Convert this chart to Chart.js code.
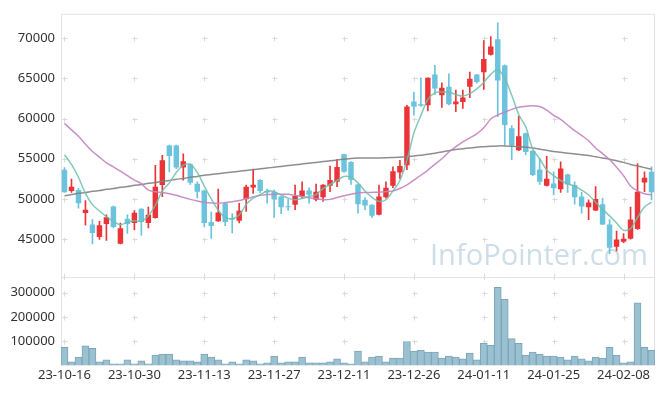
<!DOCTYPE html>
<html lang="en">
<head>
  <meta charset="UTF-8">
  <title>Candle chart</title>
  <script src="https://cdn.jsdelivr.net/npm/chart.js"></script>
  <style>
    body { margin: 0; background: #fff; }
    .wrap { width: 665px; height: 396px; }
  </style>
</head>
<body>
  <div class="wrap"><canvas id="candles"></canvas></div>

  <script>
    // trading days, 23-10-16 .. 24-02-16
    const dates = [
      '23-10-16','23-10-17','23-10-18','23-10-19','23-10-20','23-10-23','23-10-24','23-10-25','23-10-26','23-10-27',
      '23-10-30','23-10-31','23-11-01','23-11-02','23-11-03','23-11-06','23-11-07','23-11-08','23-11-09','23-11-10',
      '23-11-13','23-11-14','23-11-15','23-11-16','23-11-17','23-11-20','23-11-21','23-11-22','23-11-23','23-11-24',
      '23-11-27','23-11-28','23-11-29','23-11-30','23-12-01','23-12-04','23-12-05','23-12-06','23-12-07','23-12-08',
      '23-12-11','23-12-12','23-12-13','23-12-14','23-12-15','23-12-18','23-12-19','23-12-20','23-12-21','23-12-22',
      '23-12-26','23-12-27','23-12-28','24-01-02','24-01-03','24-01-04','24-01-05','24-01-08','24-01-09','24-01-10',
      '24-01-11','24-01-12','24-01-15','24-01-16','24-01-17','24-01-18','24-01-19','24-01-22','24-01-23','24-01-24',
      '24-01-25','24-01-26','24-01-29','24-01-30','24-01-31','24-02-01','24-02-02','24-02-05','24-02-06','24-02-07',
      '24-02-08','24-02-13','24-02-14','24-02-15','24-02-16'
    ];

    const opens = [
      53620, 51000, 51120, 48240, 46810, 45280, 46890, 49060, 44420, 47550,
      47010, 48780, 47010, 47620, 51740, 56660, 56660, 53900, 54320, 51900,
      51040, 47130, 47220, 49470, 47620, 47300, 49960, 51440, 52350, 51000,
      50910, 50300, 49060, 49270, 50380, 51040, 49890, 50210, 51650, 52140,
      55550, 54610, 51810, 49890, 49270, 48040, 50210, 51650, 53290, 54200,
      62120, 61790, 61660, 65480, 62890, 63970, 61790, 62080, 63970, 65480,
      65780, 67940, 69880, 66640, 58790, 56050, 58180, 56000, 53660, 51650,
      51930, 51200, 53040, 51740, 50300, 48980, 48570, 49350, 46810, 44050,
      44670, 45040, 46270, 52060, 53380
    ];
    const highs = [
      53900, 52480, 51320, 49800, 47430, 47220, 48040, 49100, 47010, 48040,
      48540, 48800, 48980, 54200, 55430, 56700, 56700, 55630, 54400, 52140,
      51120, 48360, 51240, 49500, 48170, 49470, 51740, 53710, 52400, 51240,
      51120, 50300, 49960, 51740, 52140, 51400, 51860, 51800, 54080, 54890,
      55600, 54650, 51850, 50170, 49300, 51740, 52140, 53990, 54820, 61660,
      63310, 65070, 65070, 66640, 64460, 65570, 63560, 63560, 65780, 65500,
      69720, 70210, 71930, 66700, 59130, 60270, 58200, 56000, 55010, 55310,
      53380, 54610, 53100, 52140, 50830, 49890, 51530, 50090, 47430, 45990,
      45700, 48980, 54400, 53380, 53990
    ];
    const lows = [
      50800, 50830, 48860, 46730, 44420, 44960, 44840, 46400, 44400, 45700,
      46150, 45460, 46390, 47600, 50300, 53380, 53780, 52350, 51810, 50090,
      46520, 45090, 47200, 46690, 45780, 47010, 48450, 50700, 50790, 49470,
      47710, 48170, 48570, 48660, 50090, 49470, 49770, 49680, 50910, 51530,
      53300, 51810, 48240, 48660, 47710, 48000, 50090, 51400, 52550, 53660,
      60430, 61500, 60970, 63020, 61380, 61700, 60850, 61260, 62610, 64400,
      63630, 67900, 60230, 56660, 54890, 56000, 55510, 52900, 51810, 51600,
      50510, 50830, 50830, 49350, 48240, 47430, 48550, 46800, 43190, 43520,
      44550, 45000, 46200, 50910, 49890
    ];
    const closes = [
      50830, 51530, 49470, 48660, 45780, 46730, 47710, 46520, 46360, 46890,
      48290, 47130, 48040, 51530, 54820, 55350, 53900, 54690, 52020, 50910,
      47010, 46640, 48330, 47130, 47430, 48540, 51530, 51770, 51000, 50790,
      49960, 48980, 48980, 50380, 51040, 50510, 50910, 51770, 52350, 53990,
      53380, 52350, 49350, 49190, 47920, 50300, 51400, 53460, 54110, 61500,
      61470, 61590, 65070, 63760, 63840, 61790, 62120, 62610, 64950, 64540,
      67410, 68980, 64740, 59200, 56660, 57810, 55840, 52970, 52140, 52510,
      51320, 53780, 51810, 50210, 49060, 49560, 50010, 46810, 43930, 44960,
      45040, 47430, 50910, 52640, 50830
    ];
    const volumes = [
      74600, 14700, 34700, 81300, 70700, 14700, 22700, 6700, 6700, 22700,
      6700, 18700, 6700, 42700, 46700, 46700, 22700, 18700, 18700, 14700,
      46700, 34700, 22700, 6700, 14700, 6700, 22700, 18700, 6700, 10700,
      38700, 10700, 14700, 14700, 34700, 10700, 10700, 10700, 14700, 26700,
      10700, 6700, 58700, 14700, 34700, 38700, 14700, 30700, 30700, 98700,
      58700, 62700, 54700, 54700, 30700, 38700, 34700, 26700, 50700, 22700,
      90700, 82700, 322600, 273300, 110600, 90700, 42700, 54700, 46700, 38700,
      38700, 34700, 22700, 38700, 26700, 18700, 34700, 30700, 74700, 42700,
      10700, 14700, 258600, 74700, 62700
    ];

    // moving average lines
    const maShort = [
      55500, 54300, 52700, 50700, 49300, 48500, 47800, 47200, 46800, 47100,
      47300, 47200, 47900, 49200, 51000, 52000, 53300, 54200, 54300, 53300,
      51600, 50000, 48600, 47700, 47550, 48000, 49300, 50100, 50550, 51000,
      50900, 50500, 50100, 49900, 50050, 50300, 50550, 51300, 51800, 52300,
      52800, 52700, 52000, 51000, 50200, 49700, 49900, 51000, 52300, 54800,
      58200, 60400, 62400, 63200, 63300, 63300, 63000, 62800, 63100, 63700,
      64500, 65500, 66100, 65000, 62900, 60500, 59000, 56200, 55000, 53600,
      52900, 52300, 51900, 51600, 51100, 50500, 49600, 48700, 47900, 47000,
      46100, 46300, 47700, 49000, 49600
    ];
    const maMid = [
      59400, 58600, 57800, 56800, 55900, 55200, 54500, 54000, 53450, 52900,
      52350, 51900, 51100, 50900, 50800, 50650, 50450, 50200, 49950, 49750,
      49600, 49500, 49450, 49550, 49650, 49800, 50050, 50250, 50450, 50550,
      50600, 50600, 50580, 50450, 50320, 50150, 50050, 49920, 49950, 50180,
      50400, 50600, 50750, 50800, 50820, 50850, 50920, 51000, 51300, 51750,
      52350, 52950, 53600, 54300, 55000, 55850, 56500, 57100, 57600, 58100,
      58850, 59950, 60450, 60800, 61150, 61400, 61550, 61600, 61500, 61050,
      60400, 59900, 59200, 58500, 57900, 57250, 56350, 55650, 54900, 53950,
      52900, 51600, 51000, 50650, 50500
    ];
    const maLong = [
      50400, 50550, 50700, 50800, 50950, 51050, 51200, 51300, 51450, 51550,
      51700, 51800, 51950, 52050, 52200, 52300, 52450, 52550, 52700, 52800,
      52950, 53050, 53150, 53250, 53350, 53450, 53550, 53650, 53750, 53850,
      53950, 54050, 54150, 54250, 54350, 54450, 54550, 54650, 54750, 54850,
      54950, 55050, 55100, 55100, 55100, 55100, 55120, 55150, 55200, 55250,
      55350, 55450, 55550, 55700, 55850, 56000, 56150, 56250, 56350, 56450,
      56500, 56550, 56600, 56600, 56550, 56500, 56450, 56350, 56200, 56050,
      55900, 55800, 55700, 55600, 55500, 55400, 55250, 55100, 54950, 54750,
      54550, 54300, 54100, 53900, 53700
    ];

    const priceTicks = [45000, 50000, 55000, 60000, 65000, 70000];
    const volumeTicks = [100000, 200000, 300000];

    const UP = '#eb3438';
    const DOWN = '#6cc3dd';
    const candleColors = closes.map((c, i) => c >= opens[i] ? UP : DOWN);

    // frame, "+" grid marks and the watermark
    const decor = {
      id: 'decor',
      beforeDatasetsDraw(chart) {
        const { ctx, chartArea: a, scales } = chart;
        const sep = scales.y.bottom;
        ctx.save();

        ctx.font = '30px "Open Sans"';
        ctx.fillStyle = '#cddee8';
        ctx.textBaseline = 'alphabetic';
        ctx.fillText('InfoPointer.com', a.right - 225, sep - 12, 218);

        ctx.strokeStyle = '#d9d9d9';
        ctx.lineWidth = 1;
        const xs = dates.map((d, i) => i).filter(i => i % 10 === 0)
          .map(i => Math.round(scales.x.getPixelForValue(i)) + 0.5);
        const ys = priceTicks.map(v => scales.y.getPixelForValue(v))
          .concat(volumeTicks.map(v => scales.yv.getPixelForValue(v)))
          .map(y => Math.round(y) + 0.5);
        ctx.beginPath();
        xs.forEach(x => {
          ys.forEach(y => {
            ctx.moveTo(x - 2, y); ctx.lineTo(x + 3, y);
            ctx.moveTo(x, y - 2); ctx.lineTo(x, y + 3);
          });
          ctx.moveTo(x, sep - 3); ctx.lineTo(x, sep + 3);
        });
        ctx.stroke();

        ctx.strokeStyle = '#e3e3e3';
        ctx.beginPath();
        ctx.rect(a.left + 0.5, a.top + 0.5, a.width - 1, a.height - 1);
        ctx.moveTo(a.left, Math.round(sep) + 0.5);
        ctx.lineTo(a.right, Math.round(sep) + 0.5);
        ctx.stroke();
        ctx.restore();
      }
    };

    Chart.defaults.font.family = '"Noto Sans", sans-serif';
    Chart.defaults.font.size = 13;
    Chart.defaults.color = '#333';

    const fixWidth = scale => { scale.width = 61; };
    const setTicks = list => scale => { scale.ticks = list.map(v => ({ value: v })); };

    new Chart(document.getElementById('candles'), {
      type: 'bar',
      data: {
        labels: dates,
        datasets: [
          {
            type: 'line', label: 'MA5', data: maShort, yAxisID: 'y', order: 0,
            borderColor: 'rgba(110,190,172,0.85)', borderWidth: 1.5, pointRadius: 0, tension: 0.3
          },
          {
            type: 'line', label: 'MA20', data: maMid, yAxisID: 'y', order: 0,
            borderColor: 'rgba(196,132,192,0.9)', borderWidth: 1.5, pointRadius: 0, tension: 0.3
          },
          {
            type: 'line', label: 'MA120', data: maLong, yAxisID: 'y', order: 0,
            borderColor: 'rgba(130,130,130,0.9)', borderWidth: 1.5, pointRadius: 0, tension: 0.3
          },
          {
            label: 'wick', yAxisID: 'y', order: 2, grouped: false,
            data: lows.map((l, i) => [l, highs[i]]),
            backgroundColor: candleColors, barThickness: 1
          },
          {
            label: 'body', yAxisID: 'y', order: 1, grouped: false,
            data: opens.map((o, i) => [o, closes[i]]),
            backgroundColor: candleColors, minBarLength: 1,
            barPercentage: 0.78, categoryPercentage: 1
          },
          {
            label: 'volume', yAxisID: 'yv', order: 3, grouped: false,
            data: volumes,
            backgroundColor: '#9bc0d0', borderColor: '#7ba6ba', borderWidth: 1,
            barPercentage: 1, categoryPercentage: 1
          }
        ]
      },
      options: {
        responsive: true,
        maintainAspectRatio: false,
        animation: false,
        layout: { padding: { top: 10, right: 10, bottom: 11, left: 0 } },
        plugins: { legend: { display: false }, tooltip: { enabled: false } },
        scales: {
          x: {
            offset: true,
            grid: { display: false, drawTicks: false },
            border: { display: false },
            ticks: {
              autoSkip: false, maxRotation: 0, padding: 2,
              callback: (v, i) => i % 10 === 0 ? dates[i] : ''
            }
          },
          yv: {
            position: 'left', stack: 'panels', stackWeight: 90,
            min: 0, max: 366000,
            grid: { display: false, drawTicks: false },
            border: { display: false },
            afterBuildTicks: setTicks(volumeTicks),
            ticks: { padding: 6, callback: v => String(v) },
            afterFit: fixWidth
          },
          y: {
            position: 'left', stack: 'panels', stackWeight: 267,
            min: 40320, max: 73040,
            grid: { display: false, drawTicks: false },
            border: { display: false },
            afterBuildTicks: setTicks(priceTicks),
            ticks: { padding: 6, callback: v => String(v) },
            afterFit: fixWidth
          }
        }
      },
      plugins: [decor]
    });
  </script>
</body>
</html>
